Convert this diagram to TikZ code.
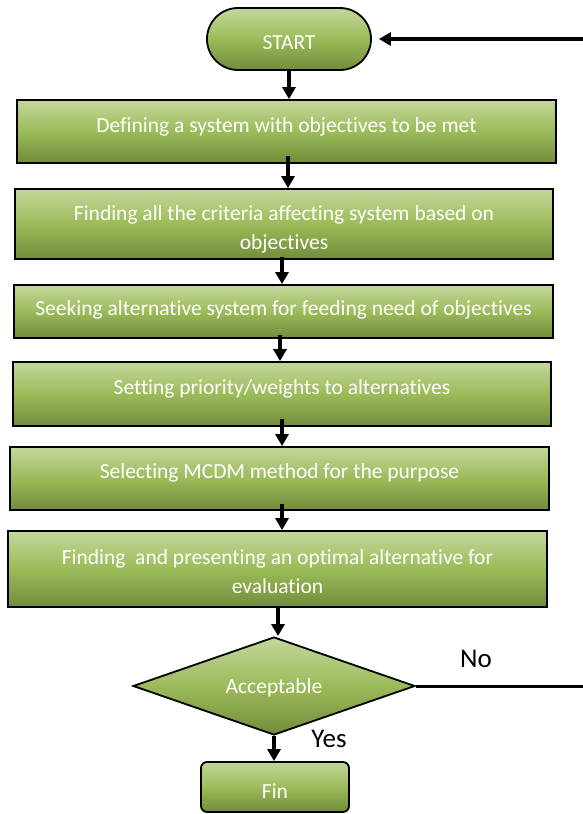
\documentclass[tikz,border=0pt]{standalone}
\usepackage{fontspec}
\setmainfont[Ligatures={NoCommon}]{Carlito}
\usetikzlibrary{shapes.geometric,arrows.meta}
\definecolor{gtop}{RGB}{196,215,155}
\definecolor{gmid}{RGB}{155,187,89}
\definecolor{gbot}{RGB}{114,140,58}
\tikzset{
  boxfill/.style={draw=black, line width=1.8pt, top color=gtop, bottom color=gbot, middle color=gmid, inner sep=0pt},
  stepbox/.style={boxfill, rectangle},
  txt/.style={text=white, font=\fontsize{21.5}{29}\selectfont, align=center, inner sep=0pt},
  lbl/.style={text=black, font=\fontsize{27}{30}\selectfont, inner sep=0pt},
  arr/.style={line width=3.5pt, -{Triangle[width=13pt,length=12pt]}},
  plain/.style={line width=3pt}
}
\begin{document}
\begin{tikzpicture}[x=1pt,y=1pt]
\useasboundingbox (0,0) rectangle (583,-814);
% shapes
\node[boxfill, rectangle, rounded corners=31pt, minimum width=164pt, minimum height=62pt] (start) at (289,-39) {};
\node[txt] (starttxt) at (289,-43) {START};
\node[stepbox, minimum width=539pt, minimum height=63pt] (b1) at (286.5,-131.5) {};
\node[txt] (t1) at ([yshift=-28pt]b1.north) {Defining a system with objectives to be met};
\node[stepbox, minimum width=538pt, minimum height=70pt] (b2) at (284,-224) {};
\node[txt, anchor=center] (t2) at ([yshift=-41pt]b2.north) {Finding all the criteria affecting system based on\\objectives};
\node[stepbox, minimum width=539pt, minimum height=53pt] (b3) at (283.5,-311.5) {};
\node[txt] (t3) at ([yshift=-26pt]b3.north) {Seeking alternative system for feeding need of objectives};
\node[stepbox, minimum width=538pt, minimum height=64pt] (b4) at (282,-394) {};
\node[txt] (t4) at ([yshift=-28pt]b4.north) {Setting priority/weights to alternatives};
\node[stepbox, minimum width=539pt, minimum height=63pt] (b5) at (279.5,-478.5) {};
\node[txt] (t5) at ([yshift=-27pt]b5.north) {Selecting MCDM method for the purpose};
\node[stepbox, minimum width=539pt, minimum height=76pt] (b6) at (277.5,-569) {};
\node[txt] (t6) at ([yshift=-42pt]b6.north) {Finding\ \ and presenting an optimal alternative for\\evaluation};
\node[boxfill, diamond, minimum width=282pt, minimum height=98pt] (d) at (274,-686) {};
\node[txt] (dt) at (274,-688) {Acceptable};
\node[boxfill, rectangle, rounded corners=6pt, minimum width=148pt, minimum height=50pt] (fin) at (275,-787) {};
\node[txt] (fint) at (275,-791) {Fin};
% labels
\node[lbl] (no) at (476,-659) {No};
\node[lbl] (yes) at (329,-739) {Yes};
% connectors
\coordinate (inp) at (583,-39);
\coordinate (outp) at (583,-686);
\draw[arr] (inp) -- ([xshift=7pt]start.east);
\draw[arr] (start.south) -- (start.south |- b1.north);
\draw[arr] ([xshift=1.5pt,yshift=8pt]b1.south) -- ([xshift=1.5pt]b1.south |- b2.north);
\draw[arr] ([xshift=-2pt,yshift=3pt]b2.south) -- ([xshift=-2pt]b2.south |- b3.north);
\draw[arr] ([xshift=-3.5pt,yshift=4pt]b3.south) -- ([xshift=-3.5pt]b3.south |- b4.north);
\draw[arr] ([yshift=8pt]b4.south) -- (b4.south |- b5.north);
\draw[arr] ([xshift=2.5pt,yshift=7pt]b5.south) -- ([xshift=2.5pt]b5.south |- b6.north);
\draw[arr] ([xshift=0.5pt]b6.south) -- ([xshift=0.5pt]b6.south |- d.north);
\draw[arr] (d.south) -- (d.south |- fin.north);
\draw[plain] (d.east) -- (outp);
\end{tikzpicture}
\end{document}
